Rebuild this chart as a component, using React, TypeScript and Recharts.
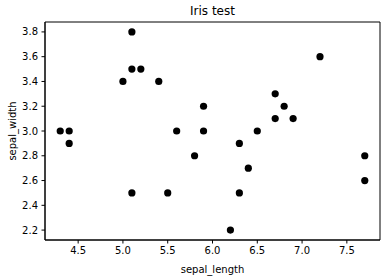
import React from 'react';
import { ScatterChart, Scatter, XAxis, YAxis, ReferenceArea, Label } from 'recharts';

const sepalLength = [5.1, 5.1, 5.2, 5.0, 5.4, 7.2, 6.7, 5.9, 6.8, 6.7, 6.9, 4.3, 4.4, 5.6, 5.9, 6.5, 4.4, 6.3, 5.8, 7.7, 6.4, 7.7, 5.1, 5.5, 6.3, 6.2];
const sepalWidth = [3.8, 3.5, 3.5, 3.4, 3.4, 3.6, 3.3, 3.2, 3.2, 3.1, 3.1, 3.0, 3.0, 3.0, 3.0, 3.0, 2.9, 2.9, 2.8, 2.8, 2.7, 2.6, 2.5, 2.5, 2.5, 2.2];
const xTicks = [4.5, 5.0, 5.5, 6.0, 6.5, 7.0, 7.5];
const yTicks = [2.2, 2.4, 2.6, 2.8, 3.0, 3.2, 3.4, 3.6, 3.8];

const X_DOMAIN: [number, number] = [4.13, 7.87];
const Y_DOMAIN: [number, number] = [2.12, 3.88];

const FONT = '"DejaVu Sans", sans-serif';

const App: React.FC = () => {
  const data = sepalLength.map((x, i) => ({ x, y: sepalWidth[i] }));
  const tickStyle = { fill: '#000', fontSize: 10, fontFamily: FONT };

  return (
    <div style={{ position: 'absolute', left: 0, top: 0, width: 387, height: 279, background: '#fff' }}>
      <div
        style={{
          position: 'absolute', top: 4, left: 45, width: 335, textAlign: 'center',
          fontFamily: FONT, fontSize: 12, lineHeight: '14px', color: '#000',
        }}
      >
        Iris test
      </div>
      <ScatterChart width={387} height={279} margin={{ top: 22, right: 7, left: 0, bottom: 0 }}>
        <XAxis
          type="number" dataKey="x" domain={X_DOMAIN} ticks={xTicks} allowDataOverflow
          tickFormatter={(v: number) => v.toFixed(1)} height={39}
          stroke="#000" tickSize={3.5} tickMargin={3.5} tick={tickStyle}
        >
          <Label value="sepal_length" position="insideBottom" offset={6} fill="#000" fontSize={10} fontFamily={FONT} />
        </XAxis>
        <YAxis
          type="number" dataKey="y" domain={Y_DOMAIN} ticks={yTicks} allowDataOverflow
          tickFormatter={(v: number) => v.toFixed(1)} width={45}
          stroke="#000" tickSize={3.5} tickMargin={3.5} tick={tickStyle}
        >
          <Label value="sepal_width" angle={-90} position="center" dx={-10} fill="#000" fontSize={10} fontFamily={FONT} />
        </YAxis>
        {/* axes frame */}
        <ReferenceArea x1={X_DOMAIN[0]} x2={X_DOMAIN[1]} y1={Y_DOMAIN[0]} y2={Y_DOMAIN[1]} fill="none" stroke="#000" strokeWidth={1} />
        <Scatter data={data} fill="#000" isAnimationActive={false}
          shape={(p: any) => <circle cx={p.cx} cy={p.cy} r={3.6} fill="#000" />}
        />
      </ScatterChart>
    </div>
  );
};

export default App;
